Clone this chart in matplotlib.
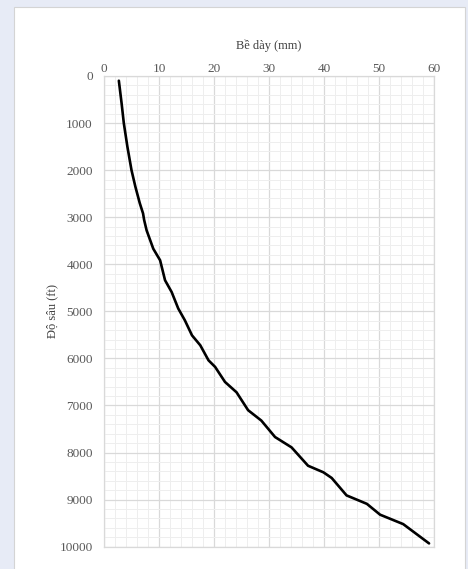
import matplotlib
matplotlib.use("Agg")
import matplotlib.pyplot as plt
from matplotlib.patches import Rectangle
from matplotlib.ticker import MultipleLocator

# Data
depth_ft = [100, 580, 1000, 1500, 2000, 2350, 2700, 2920, 3060, 3280, 3670, 3915,
            4340, 4590, 4940, 5190, 5510, 5720, 6040, 6180, 6500, 6720, 7100, 7320,
            7670, 7890, 8280, 8420, 8540, 8910, 9090, 9320, 9520, 9930]
thickness_mm = [2.7, 3.2, 3.6, 4.25, 5.0, 5.7, 6.5, 7.1, 7.3, 7.75, 8.96, 10.2,
                11.1, 12.3, 13.5, 14.7, 16.0, 17.5, 19.0, 20.2, 22.0, 24.1, 26.2, 28.6,
                31.1, 34.1, 37.1, 39.9, 41.4, 44.1, 47.8, 50.2, 54.4, 59.1]
x_ticks = [0, 10, 20, 30, 40, 50, 60]
y_ticks = [0, 1000, 2000, 3000, 4000, 5000, 6000, 7000, 8000, 9000, 10000]
x_title = "Bề dày (mm)"
y_title = "Độ sâu (ft)"

W, H = 468, 569
fig = plt.figure(figsize=(W / 100, H / 100), dpi=100)
fig.patch.set_facecolor("#e7ebf6")

# white chart panel (background axes)
bg = fig.add_axes([0, 0, 1, 1], zorder=-5)
bg.set_xlim(0, W)
bg.set_ylim(H, 0)
bg.axis("off")
bg.add_patch(Rectangle((14, 7), 451, H + 5, facecolor="white",
                       edgecolor="#d4d4d4", linewidth=0.8))

left, right = 104 / W, 434 / W
top, bottom = 1 - 76 / H, 1 - 546.7 / H
ax = fig.add_axes([left, bottom, right - left, top - bottom], zorder=1)
ax.set_facecolor("white")

ax.plot(thickness_mm, depth_ft, color="black", linewidth=1.9,
        solid_joinstyle="round", solid_capstyle="round", zorder=3)

ax.set_xlim(0, 60)
ax.set_ylim(10000, 0)
ax.set_xticks(x_ticks)
ax.set_yticks(y_ticks)
ax.xaxis.set_minor_locator(MultipleLocator(2))
ax.yaxis.set_minor_locator(MultipleLocator(200))
ax.xaxis.tick_top()
ax.xaxis.set_label_position("top")

ax.grid(which="major", color="#d9d9d9", linewidth=0.9)
ax.grid(which="minor", color="#eeeeee", linewidth=0.7)
ax.set_axisbelow(True)

for s in ax.spines.values():
    s.set_color("#d9d9d9")
    s.set_linewidth(0.9)

font = "Liberation Serif"
ax.tick_params(which="both", length=0, labelsize=9.5, labelcolor="#595959")
ax.tick_params(axis="x", pad=1)
ax.tick_params(axis="y", pad=8)
for lab in ax.get_xticklabels() + ax.get_yticklabels():
    lab.set_fontfamily(font)

ax.set_xlabel(x_title, fontsize=9, color="#404040", family=font, labelpad=10)
ax.set_ylabel(y_title, fontsize=9, color="#404040", family=font, labelpad=1)

fig.savefig("out.png", dpi=100, facecolor=fig.get_facecolor())
